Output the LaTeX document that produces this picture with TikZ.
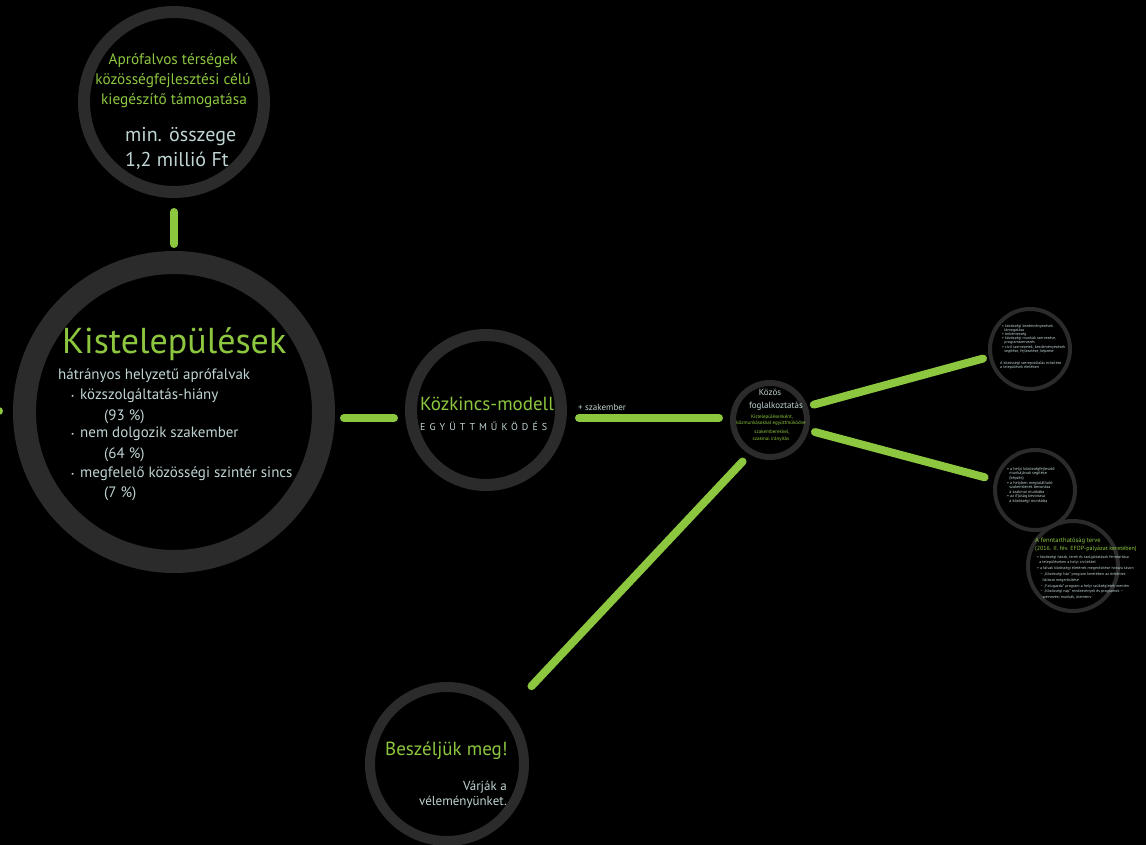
\documentclass[tikz,border=0pt]{standalone}
\usepackage{fontspec}
\setmainfont{PT Sans}
\newfontfamily\spacedfont[LetterSpace=40]{PT Sans}
\definecolor{ringc}{HTML}{2B2B2B}
\definecolor{lime}{HTML}{8DC63F}
\definecolor{pale}{HTML}{C0D4D4}
\newcommand{\fsz}[2]{\fontsize{#1}{#2}\selectfont}
\newcommand{\bul}{\makebox[9pt][l]{\raisebox{1pt}{\fsz{7}{7}\textbullet}}}
\begin{document}
\begin{tikzpicture}[x=1pt,y=-1pt,
  bub/.style={circle,draw=ringc,inner sep=0pt},
  conn/.style={draw=lime,line width=8pt,line cap=round},
  gt/.style={text=lime,inner sep=0pt},
  pt/.style={text=pale,inner sep=0pt},
]
\fill[black] (0,0) rectangle (1146,845);
\useasboundingbox (0,0) rectangle (1146,845);

% circles
\node[bub,minimum size=180pt,line width=12pt] (top) at (174,102) {};
\node[bub,minimum size=299pt,line width=23pt] (big) at (174,412) {};
\node[bub,minimum size=150pt,line width=12pt] (kk) at (486,410) {};
\node[bub,minimum size=74pt,line width=6pt] (kf) at (770,420) {};
\node[bub,minimum size=80pt,line width=4pt] (r1) at (1030,349) {};
\node[bub,minimum size=80pt,line width=4pt] (r2) at (1035,490) {};
\node[bub,minimum size=90pt,line width=4pt] (r3) at (1073,566) {};
\node[bub,minimum size=154pt,line width=10pt] (bm) at (447,764) {};

% connectors
\coordinate (lstub) at (-40,411);
\draw[conn] ([yshift=-14pt]top.south) -- ([yshift=7pt]big.north);
\draw[conn] ([xshift=-14pt,yshift=1pt]big.west) -- (lstub);
\draw[conn] ([xshift=9pt,yshift=-6pt]big.east) -- ([xshift=-11pt,yshift=-8pt]kk.west);
\draw[conn] ([xshift=12pt,yshift=-8pt]kk.east) -- ([xshift=-11pt,yshift=2pt]kf.west);
\draw[conn,shorten <=6.5pt,shorten >=6pt] (kf.20) -- (r1.191);
\draw[conn,shorten <=6.5pt,shorten >=10pt] (kf.-15) -- (r2.166);
\draw[conn,shorten <=10pt,shorten >=33pt] (kf.239) -- (bm.41);

% top circle
\node[gt,font=\fsz{15.3}{17},anchor=base] (tg1) at (173,65) {Aprófalvos térségek};
\node[gt,font=\fsz{15.3}{17},anchor=base] (tg2) at (173,85) {közösségfejlesztési célú};
\node[gt,font=\fsz{15.3}{17},anchor=base] (tg3) at (174,105) {kiegészítő támogatása};
\node[pt,font=\fsz{20}{24},anchor=base west] (tm1) at (125,142) {min. összege};
\node[pt,font=\fsz{20}{24},anchor=base west] (tm2) at (125,167) {1,2 millió Ft};

% big circle
\node[gt,font=\fsz{36}{42},anchor=base west] (kt) at (62,353) {Kistelepülések};
\node[pt,font=\fsz{15}{18},anchor=base west] (k0) at (58,379) {hátrányos helyzetű aprófalvak};
\node[pt,font=\fsz{15}{18},anchor=base west] (kb1) at (71,399) {\bul közszolgáltatás-hiány};
\node[pt,font=\fsz{15}{18},anchor=base west] (kp1) at (104,420) {(93 \%)};
\node[pt,font=\fsz{15}{18},anchor=base west] (kb2) at (71,437) {\bul nem dolgozik szakember};
\node[pt,font=\fsz{15}{18},anchor=base west] (kp2) at (104,458) {(64 \%)};
\node[pt,font=\fsz{15}{18},anchor=base west] (kb3) at (71,477) {\bul megfelelő közösségi szintér sincs};
\node[pt,font=\fsz{15}{18},anchor=base west] (kp3) at (104,497) {(7 \%)};

% Közkincs
\node[gt,font=\fsz{19}{23},anchor=base west] (km) at (420,410) {Közkincs-modell};
\node[pt,font=\spacedfont\fsz{10}{12},anchor=base west] (ke) at (420,430) {EGYÜTTMŰKÖDÉS};
\node[pt,font=\fsz{9}{11},anchor=base west] (sz) at (578,410) {+ szakember};

% Közös foglalkoztatás
\node[pt,font=\fsz{9}{11},anchor=base] (kf1) at (770,395) {Közös};
\node[pt,font=\fsz{9}{11},anchor=base] (kf2) at (776,408) {foglalkoztatás};
\node[gt,font=\fsz{5}{6},anchor=base] (kf3) at (772,418) {Kistelepülésenként,};
\node[gt,font=\fsz{5}{6},anchor=base] (kf4) at (771,424) {közmunkásokkal együttműködve};
\node[gt,font=\fsz{5}{6},anchor=base] (kf5) at (772,433) {szakemberekkel,};
\node[gt,font=\fsz{5}{6},anchor=base] (kf6) at (771,440) {szakmai irányítás};

% r1
\node[pt,font=\fsz{4}{4.1},align=left,anchor=north west] (r1a) at (1002,324.5) {%
• közösségi kezdeményezések\\
\ \ támogatása\\
• önkéntesség\\
• közösségi munkák szervezése,\\
\ \ programszervezés\\
• civil szervezetek, kezdeményezések\\
\ \ segítése, fejlesztése, képzése};
\node[pt,font=\fsz{4}{4.1},align=left,anchor=north west] (r1b) at (1000,361.5) {%
A közösségi szerepvállalás erősítése\\
a települések életében};

% r2
\node[pt,font=\fsz{4.2}{4.6},align=left,anchor=north west] (r2a) at (1007,467) {%
• a helyi közösségfejlesztő\\
\ \ munkájának segítése\\
\ \ (képzés)\\
• a helyben megtalálható\\
\ \ szakemberek bevonása\\
\ \ a szakmai munkába\\
• az ifjúság bevonása\\
\ \ a közösségi munkába};

% r3
\node[gt,font=\fsz{6.5}{7},anchor=base west] (r3g1) at (1035,542) {A fenntarthatóság terve};
\node[gt,font=\fsz{6}{7},anchor=base west] (r3g2) at (1035,550) {(2016. II. fév. EFOP-pályázat keretében)};
\node[pt,font=\fsz{4}{5.8},align=left,anchor=north west] (r3a) at (1037,555) {%
• közösségi házak, terek és szolgáltatások fenntartása\\
\ \ a településeken a helyi civilekkel\\
• a falvak közösségi életének megerősítése hosszú távon\\
\ \ \ – „Közösségi ház” program keretében az önkéntes\\
\ \ \ \ \ hálózat megerősítése\\
\ \ \ – „Falugazda” program a helyi szükségletek mentén\\
\ \ \ – „Közösségi nap” rendezvények és programok –\\
\ \ \ \ \ szervezési munkák, ütemterv};

% Beszéljük meg
\node[gt,font=\fsz{19}{22},anchor=base west] (bm1) at (385,755) {Beszéljük meg!};
\node[pt,font=\fsz{13}{15},anchor=base east] (bm2) at (507,790) {Várják a};
\node[pt,font=\fsz{13}{15},anchor=base east] (bm3) at (507,805) {véleményünket.};
\end{tikzpicture}
\end{document}
